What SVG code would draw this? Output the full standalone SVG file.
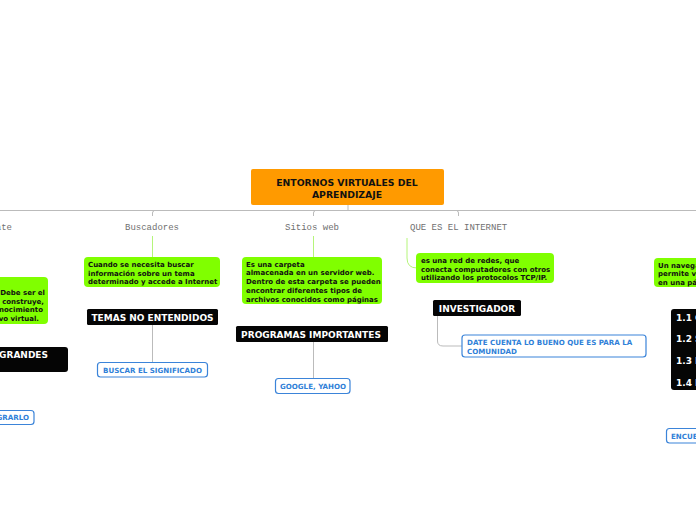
<svg xmlns="http://www.w3.org/2000/svg" width="696" height="520" viewBox="0 0 696 520">
<style>
.lbl{font-family:"Liberation Mono",monospace;font-size:9px;fill:#707070}
.g{fill:#80ff00}
.gt{font-family:"DejaVu Sans",Verdana,sans-serif;font-weight:bold;font-size:7px;fill:#111}
.b{fill:#050505}
.bt{font-family:"DejaVu Sans",Verdana,sans-serif;font-weight:bold;font-size:9px;fill:#fff}
.w{fill:#fff;stroke:#3b84d9;stroke-width:1.2}
.wt{font-family:"DejaVu Sans",Verdana,sans-serif;font-weight:bold;font-size:7.1px;fill:#2f7fd8}
.ln{fill:none;stroke:#bbb;stroke-width:1}
.gl{fill:none;stroke:#b5f57a;stroke-width:1}
.rt{font-family:"DejaVu Sans",Verdana,sans-serif;font-weight:bold;font-size:9.3px;fill:#111}
</style>
<rect width="696" height="520" fill="#fff"/>
<g id="connectors">
<line class="ln" x1="0" y1="210.5" x2="696" y2="210.5"/>
<line class="ln" x1="348" y1="205" x2="348" y2="210"/>
<path class="ln" d="M152.5 216 V213 Q152.5 211 154 211" stroke="#ddd"/>
<path class="ln" d="M313.5 216 V213 Q313.5 211 315 211" stroke="#ddd"/>
<path class="ln" d="M458.5 216 V213 Q458.5 211 457 211" stroke="#ddd"/>
<line class="gl" x1="152.5" y1="236" x2="152.5" y2="257"/>
<line class="gl" x1="313.5" y1="236" x2="313.5" y2="257"/>
<path class="gl" d="M407 238 V258 Q407 268 417 268"/>
<line class="ln" x1="152.5" y1="325" x2="152.5" y2="362"/>
<line class="ln" x1="313.5" y1="342" x2="313.5" y2="378"/>
<path class="ln" d="M437.5 316 V341 Q437.5 346 443 346 H462"/>
</g>
<g id="root">
<rect x="251" y="169" width="193" height="36" rx="2" fill="#ff9a00"/>
<text class="rt" x="347" y="186" text-anchor="middle">ENTORNOS VIRTUALES DEL</text>
<text class="rt" x="347" y="197.5" text-anchor="middle">APRENDIZAJE</text>
</g>
<g id="lbl-left"><text class="lbl" x="12" y="230" text-anchor="end">ate</text></g>
<g id="lbl-buscadores"><text class="lbl" x="152" y="230" text-anchor="middle">Buscadores</text></g>
<g id="lbl-sitios"><text class="lbl" x="312" y="230" text-anchor="middle">Sitios web</text></g>
<g id="lbl-internet"><text class="lbl" x="410" y="230">QUE ES EL INTERNET</text></g>
<g id="left-green">
<rect class="g" x="-10" y="277" width="58" height="47" rx="4"/>
<text class="gt" x="45" y="295" text-anchor="end">Debe ser el</text>
<text class="gt" x="44" y="304" text-anchor="end">construye,</text>
<text class="gt" x="43" y="312" text-anchor="end">nocimiento</text>
<text class="gt" x="39" y="321" text-anchor="end">vo virtual.</text>
</g>
<g id="left-black">
<rect class="b" x="-10" y="347" width="78" height="25" rx="3"/>
<text class="bt" x="48" y="358" text-anchor="end">GRANDES</text>
</g>
<g id="left-blue">
<rect class="w" x="-10" y="410.5" width="44" height="14" rx="3"/>
<text class="wt" x="29" y="420" text-anchor="end">GRARLO</text>
</g>
<g id="buscadores-green">
<rect class="g" x="84" y="257" width="136" height="30" rx="4"/>
<text class="gt" x="88" y="267">Cuando se necesita buscar</text>
<text class="gt" x="88" y="275.5">información sobre un tema</text>
<text class="gt" x="88" y="284">determinado y accede a Internet</text>
</g>
<g id="temas">
<rect class="b" x="87" y="309" width="131" height="16" rx="1.5"/>
<text class="bt" x="152.5" y="321" text-anchor="middle">TEMAS NO ENTENDIDOS</text>
</g>
<g id="buscar">
<rect class="w" x="97.5" y="362.5" width="110" height="14.5" rx="3"/>
<text class="wt" x="152.5" y="372.5" text-anchor="middle">BUSCAR EL SIGNIFICADO</text>
</g>
<g id="sitios-green">
<rect class="g" x="242" y="257" width="140" height="47" rx="4"/>
<text class="gt" x="246" y="266.5">Es una carpeta</text>
<text class="gt" x="246" y="275">almacenada en un servidor web.</text>
<text class="gt" x="246" y="284">Dentro de esta carpeta se pueden</text>
<text class="gt" x="246" y="292.5">encontrar diferentes tipos de</text>
<text class="gt" x="246" y="301.5">archivos conocidos como páginas</text>
</g>
<g id="programas">
<rect class="b" x="236" y="326" width="152" height="16" rx="1.5"/>
<text class="bt" x="311" y="338" text-anchor="middle">PROGRAMAS IMPORTANTES</text>
</g>
<g id="google">
<rect class="w" x="275.5" y="378.5" width="74.5" height="15" rx="3"/>
<text class="wt" x="313" y="389" text-anchor="middle">GOOGLE, YAHOO</text>
</g>
<g id="internet-green">
<rect class="g" x="416" y="253" width="138" height="30" rx="4"/>
<text class="gt" x="421" y="263">es una red de redes, que</text>
<text class="gt" x="421" y="271.5">conecta computadores con otros</text>
<text class="gt" x="421" y="280">utilizando los protocolos TCP/IP.</text>
</g>
<g id="investigador">
<rect class="b" x="433" y="300" width="88" height="16" rx="1.5"/>
<text class="bt" x="477" y="312" text-anchor="middle">INVESTIGADOR</text>
</g>
<g id="date-cuenta">
<rect class="w" x="462" y="335" width="184" height="22" rx="3"/>
<text class="wt" x="467" y="345">DATE CUENTA LO BUENO QUE ES PARA LA</text>
<text class="wt" x="467" y="354">COMUNIDAD</text>
</g>
<g id="right-green">
<rect class="g" x="654" y="258" width="60" height="29" rx="4"/>
<text class="gt" x="658" y="268">Un navega</text>
<text class="gt" x="658" y="276">permite v</text>
<text class="gt" x="658" y="284.5">en una pá</text>
</g>
<g id="right-black">
<rect class="b" x="671" y="309" width="40" height="81" rx="3"/>
<text class="bt" x="676" y="321">1.1 C</text>
<text class="bt" x="676" y="342">1.2 S</text>
<text class="bt" x="676" y="364">1.3 I</text>
<text class="bt" x="676" y="386">1.4 I</text>
</g>
<g id="right-blue">
<rect class="w" x="666.5" y="428.5" width="40" height="14.5" rx="3"/>
<text class="wt" x="671" y="439">ENCUE</text>
</g>
</svg>
